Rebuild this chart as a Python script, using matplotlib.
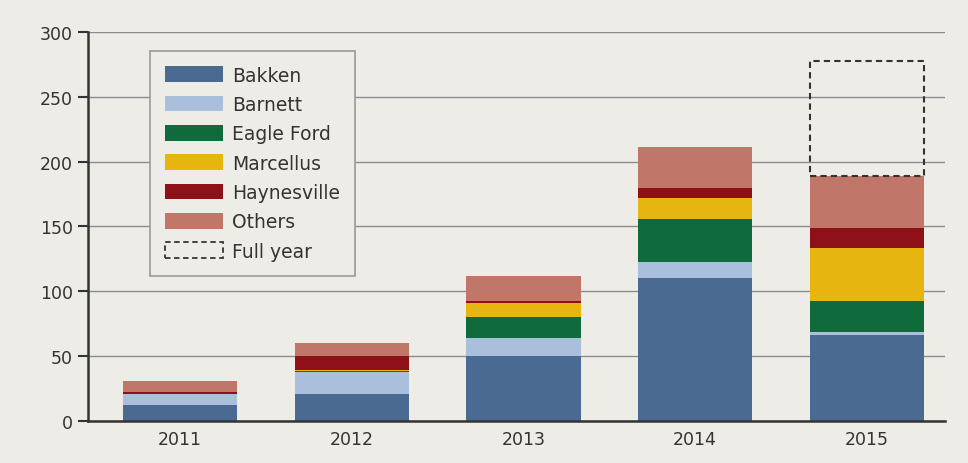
import matplotlib.pyplot as plt
from matplotlib.patches import Patch
import numpy as np

years = ["2011", "2012", "2013", "2014", "2015"]
bakken = [12, 20.5, 50, 110, 66]
barnett = [8.5, 17, 13.5, 12.5, 2.5]
eagle_ford = [0, 1, 16.5, 33.5, 24]
marcellus = [0, 1, 11, 15.5, 40.5]
haynesville = [1.5, 10.5, 1.5, 8, 16]
others = [8.5, 10, 19.5, 32, 40]
full_year_2015 = 278

series = [
    ("Bakken", bakken, "#4a6a92"),
    ("Barnett", barnett, "#a9bfdc"),
    ("Eagle Ford", eagle_ford, "#0f6b3c"),
    ("Marcellus", marcellus, "#e6b50f"),
    ("Haynesville", haynesville, "#8e1019"),
    ("Others", others, "#c0776a"),
]

bg = "#edece7"
fig = plt.figure(figsize=(9.68, 4.64), dpi=100, facecolor=bg)
ax = fig.add_axes([88 / 968, 1 - 421.7 / 464, (945 - 88) / 968, (421.7 - 33) / 464])
ax.set_facecolor(bg)

x = np.arange(len(years))
width = 0.665

# horizontal gridlines behind the bars
ax.set_axisbelow(True)
ax.yaxis.grid(True, color="#8c8c8c", linewidth=1.0)

bottom = np.zeros(len(years))
handles = []
for name, vals, color in series:
    vals = np.array(vals, dtype=float)
    ax.bar(x, vals, width, bottom=bottom, color=color, linewidth=0)
    bottom += vals
    handles.append(Patch(facecolor=color, edgecolor="none", label=name))

# dashed outline for the full-year estimate
ax.bar(x[-1], full_year_2015 - bottom[-1], width, bottom=bottom[-1],
       fill=False, edgecolor="#333333", linestyle=(0, (3, 2)), linewidth=1.5)
handles.append(Patch(facecolor="none", edgecolor="#333333",
                     linestyle=(0, (3, 2)), linewidth=1.3, label="Full year"))

ax.set_ylim(0, 300)
ax.set_xlim(-0.536, 4.455)
ax.set_yticks(range(0, 301, 50))
ax.set_xticks(x)
ax.set_xticklabels(years)

for s in ["top", "right"]:
    ax.spines[s].set_visible(False)
ax.spines["left"].set_color("#333333")
ax.spines["left"].set_linewidth(1.8)
ax.spines["bottom"].set_color("#333333")
ax.spines["bottom"].set_linewidth(1.8)

ax.tick_params(axis="y", length=7, width=1.5, color="#333333",
               labelsize=12.5, labelcolor="#333333", pad=4)
ax.tick_params(axis="x", length=0, labelsize=12.5, labelcolor="#333333", pad=7)

leg = ax.legend(handles=handles, loc="upper left", bbox_to_anchor=(0.072, 0.952),
                fontsize=13.5, frameon=True, fancybox=False, borderpad=0.8,
                handlelength=3.1, handleheight=0.9, labelspacing=0.55,
                handletextpad=0.5, borderaxespad=0)
leg.get_frame().set_facecolor(bg)
leg.get_frame().set_edgecolor("#9a9a9a")
leg.get_frame().set_linewidth(1.2)
leg.get_frame().set_alpha(1)
for t in leg.get_texts():
    t.set_color("#333333")

fig.savefig("out.png", dpi=100, facecolor=bg)
